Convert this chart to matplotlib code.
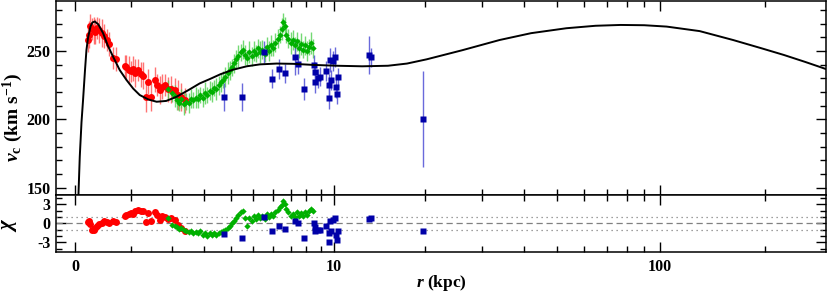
import numpy as np
import matplotlib
matplotlib.use("Agg")
import matplotlib.pyplot as plt
from matplotlib.ticker import FixedLocator, MultipleLocator, NullFormatter

plt.rcParams['font.family'] = ['Liberation Serif', 'DejaVu Serif']
plt.rcParams['font.weight'] = 'bold'
plt.rcParams['mathtext.fontset'] = 'custom'
plt.rcParams['mathtext.rm'] = 'Liberation Serif:bold'
plt.rcParams['mathtext.it'] = 'Liberation Serif:italic:bold'
plt.rcParams['mathtext.bf'] = 'Liberation Serif:bold'

# model curve (kpc, km/s)
model_r = [0.040, 0.048, 0.068, 0.095, 0.119, 0.15, 0.173, 0.20, 0.24, 0.27, 0.31, 0.37, 0.455,
           0.54, 0.64, 0.77, 0.907, 1.05, 1.195, 1.4, 1.60, 1.85, 2.135, 2.5, 2.858, 3.21,
           3.6, 4.10, 4.7, 5.32, 6.2, 7.16, 8.5, 10.25, 12.5, 15.2, 17.5, 20.2, 26, 33.8,
           42, 53.4, 65, 76.9, 90, 104.5, 130, 162, 195, 226, 260, 285, 300]
model_v = [130, 145, 172.6, 198, 214, 236, 250.7, 260, 268, 270.8, 271.5, 269.5, 263,
           254, 245.8, 236, 228.8, 222.5, 217.8, 214.5, 212.9, 213.5, 216.5, 221.5, 226.3, 229.5,
           233, 236.3, 238.8, 240.2, 240.8, 240.6, 239.8, 239.2, 238.8, 239.2, 240.8, 243.9, 250.5, 258,
           263, 266.6, 268.4, 269, 268.8, 267.8, 264.5, 258, 252, 247.1, 242, 238.5, 236.5]

# red circles
red_r = [0.20, 0.21, 0.23, 0.26, 0.29, 0.32, 0.35, 0.39, 0.43, 0.47, 0.52, 0.57, 0.63, 0.69,
         0.87, 0.90, 0.95, 1.00, 1.05, 1.10, 1.16, 1.22, 1.28, 1.35, 1.39, 1.47, 1.55, 1.62,
         1.68, 1.75, 1.81, 1.90, 1.99, 2.09, 2.18, 2.28, 2.38]
red_v = [258, 262, 268, 266, 265, 264, 267, 265, 263, 261, 258, 255, 245, 244,
         239, 238, 236, 235, 237, 234, 236, 233, 232, 216.5, 227.5, 216.5, 229, 225,
         221.5, 224, 225, 222, 222, 221.5, 218, 216.5, 214]
red_err = [9, 10, 9, 8, 10, 9, 8, 9, 10, 9, 8, 9, 8, 9,
           8, 9, 10, 8, 9, 10, 8, 9, 10, 11, 9, 10, 9, 8,
           10, 9, 8, 9, 10, 9, 11, 10, 9]
red_chi = [0.25, 0.4, -0.1, -1.0, -1.0, -0.7, -0.5, -0.2, 0.0, 0.4, 0.2, 0.0, 0.3, 0.2,
           1.2, 1.3, 1.4, 1.6, 1.5, 2.0, 2.1, 1.9, 2.0, 0.25, 1.6, 0.3, 1.8, 1.3,
           0.5, 1.1, 1.0, 0.7, 0.8, 0.5, -0.3, -0.8, -1.2]

# green diamonds
green_r = [1.89, 2.02, 2.08, 2.15, 2.22, 2.28, 2.35, 2.42, 2.50, 2.57, 2.65, 2.72, 2.80, 2.88,
           2.96, 3.04, 3.12, 3.20, 3.28, 3.36, 3.45, 3.53, 3.62, 3.70, 3.79, 3.88, 3.97, 4.06,
           4.15, 4.24, 4.33, 4.43, 4.52, 4.62, 4.72, 4.82, 4.92, 5.02, 5.12, 5.23, 5.34, 5.45,
           5.56, 5.67, 5.78, 5.90, 6.01, 6.13, 6.25, 6.37, 6.49, 6.58, 6.66, 6.75, 6.87, 7.00,
           7.12, 7.25, 7.38, 7.51, 7.64, 7.77, 7.91, 8.05, 8.19, 8.33, 8.45]
green_v = [222, 219, 217, 214, 212, 215, 211, 213, 212, 215, 214, 216, 215, 218,
           216, 219, 218, 221, 220, 223, 222, 225, 227, 229, 231, 234, 236, 238,
           241, 244, 246, 249, 251, 247, 245, 249, 246, 250, 248, 252, 249, 251,
           248, 253, 250, 254, 252, 256, 259, 262, 266, 271, 268, 262, 259, 256,
           258, 254, 257, 252, 255, 251, 254, 250, 253, 256, 252]
green_err = [7, 6, 8, 7, 6, 7, 8, 6, 7, 7, 6, 8, 7, 6,
             7, 8, 6, 7, 7, 6, 8, 7, 7, 6, 7, 8, 7, 6,
             7, 7, 8, 6, 7, 7, 6, 8, 7, 7, 6, 7, 8, 7,
             6, 7, 7, 8, 6, 7, 7, 6, 8, 7, 7, 6, 7, 8,
             7, 6, 7, 7, 8, 6, 7, 7, 6, 8, 7]
green_chi = [0.9, -0.3, -0.5, -0.6, -0.9, -0.7, -1.1, -1.2, -1.4, -1.2,
             -1.5, -1.4, -1.6, -1.3, -1.8, -1.5, -2.0, -1.6, -1.9, -1.5,
             -1.8, -1.5, -1.4, -1.3, -1.0, -0.7, -0.4, 0.0, 0.4, 0.9,
             1.3, 1.7, 1.9, 0.9, -0.4, 0.8, 0.3, 1.1, 0.6, 1.3,
             0.9, 1.1, 0.7, 1.4, 1.0, 1.5, 1.2, 1.7, 2.1, 2.5,
             2.9, 3.5, 3.1, 2.2, 1.7, 1.2, 1.5, 1.0, 1.7, 1.1,
             1.6, 1.2, 1.8, 1.3, 2.0, 2.3, 1.9]

# blue squares
blue_r = [3.74, 4.47, 5.53, 5.95, 6.33, 6.66, 7.26, 7.49, 7.83, 8.51, 8.58, 8.63, 8.82, 8.94,
          9.44, 9.62, 9.62, 9.77, 9.75, 9.91, 10.09, 10.17, 10.31, 10.36, 13.15, 13.39, 19.68]
blue_v = [216.5, 216.5, 249, 229.7, 236.8, 233.7, 245.4, 240.5, 222, 239.8, 227.5, 234.8, 230, 231.2,
          235.4, 225.1, 215.8, 228.8, 243.4, 242.7, 245.6, 223.4, 218.3, 230.7, 247.1, 245.4, 200]
blue_err = [10, 10, 8, 7, 7, 7, 13, 7, 8, 7, 8, 7, 7, 7,
            7, 8, 8, 7, 9, 7, 7, 8, 7, 7, 14, 7, 35]
blue_chi = [-1.7, -2.4, 1.0, -1.2, -0.5, -0.9, 0.4, 0.0, -2.3, 0.0, -1.3, -0.6, -1.1, -1.0,
            -0.5, -1.6, -2.9, -1.3, 0.4, 0.5, 0.8, -1.8, -2.7, -1.2, 0.6, 0.9, -1.2]

C = 2.3


def fwd(r):
    return np.log10(np.clip(np.asarray(r, dtype=float) + C, 1e-6, None))


def inv(y):
    return 10 ** np.asarray(y, dtype=float) - C


fig = plt.figure(figsize=(8.3, 2.92), dpi=100)
ax = fig.add_axes([0.0675, 0.3332, 0.9277, 0.6634])
axr = fig.add_axes([0.0675, 0.138, 0.9277, 0.1952])

red, redl = '#ff0000', '#ff5050'
green, greenl = '#00b000', '#50d050'
blue, bluel = '#0000a8', '#5a5ad8'

# top panel
ax.errorbar(red_r, red_v, yerr=red_err, fmt='none', ecolor=redl, elinewidth=1.0, alpha=0.8, zorder=2)
ax.plot(red_r, red_v, 'o', color=red, ms=5, mec='none', zorder=3)
ax.errorbar(green_r, green_v, yerr=green_err, fmt='none', ecolor=greenl, elinewidth=1.0, alpha=0.8, zorder=2)
ax.plot(green_r, green_v, 'D', color=green, ms=3.2, mec='none', zorder=3)
ax.errorbar(blue_r, blue_v, yerr=blue_err, fmt='none', ecolor=bluel, elinewidth=1.0, alpha=0.9, zorder=2)
ax.plot(blue_r, blue_v, 's', color=blue, ms=4, mec='none', zorder=3)
ax.plot(model_r, model_v, '-', color='black', lw=1.4, zorder=4)

# residual panel
axr.axhline(0, color='#808080', ls=(0, (5, 3)), lw=0.9)
axr.axhline(1, color='#808080', ls=(0, (1, 3)), lw=0.9)
axr.axhline(-1, color='#808080', ls=(0, (1, 3)), lw=0.9)
axr.plot(red_r, red_chi, 'o', color=red, ms=5, mec='none', zorder=3)
axr.plot(green_r, green_chi, 'D', color=green, ms=3.2, mec='none', zorder=3)
axr.plot(blue_r, blue_chi, 's', color=blue, ms=4, mec='none', zorder=3)

for a in (ax, axr):
    a.set_xscale('function', functions=(fwd, inv))
    a.set_xlim(-0.27, 298)
    a.xaxis.set_major_locator(FixedLocator([0, 10, 100]))
    a.xaxis.set_minor_locator(FixedLocator([1, 2, 3, 4, 5, 6, 7, 8, 9, 20, 30, 40, 50, 60, 70, 80, 90, 200]))
    a.xaxis.set_minor_formatter(NullFormatter())
    a.tick_params(which='both', direction='in', top=True, right=True, labelsize=11.5, width=1.0)
    a.tick_params(which='major', length=7)
    a.tick_params(which='minor', length=4.5)
    a.tick_params(axis='y', pad=4)
    for s in a.spines.values():
        s.set_linewidth(1.1)

ax.set_ylim(145, 286.5)
ax.yaxis.set_major_locator(FixedLocator([150, 200, 250]))
ax.yaxis.set_minor_locator(MultipleLocator(10))
ax.tick_params(labelbottom=False)

axr.set_ylim(-4.5, 4.5)
axr.yaxis.set_major_locator(FixedLocator([-3, 0, 3]))
axr.yaxis.set_minor_locator(MultipleLocator(1))
axr.set_yticklabels(['-3', '0', '3'])
axr.tick_params(axis='x', pad=5)

ax.set_ylabel(r'$v_{\rm c}$ (km s$^{-1}$)', fontsize=14, fontweight='bold')
ax.yaxis.set_label_coords(-0.04, 0.40)
axr.set_ylabel(r'$\chi$', fontsize=15)
axr.yaxis.set_label_coords(-0.048, 0.47)
axr.set_xlabel(r'$r$ (kpc)', fontsize=12.5, fontweight='bold')
axr.xaxis.set_label_coords(0.5, -0.37)

fig.savefig('out.png', dpi=100)
